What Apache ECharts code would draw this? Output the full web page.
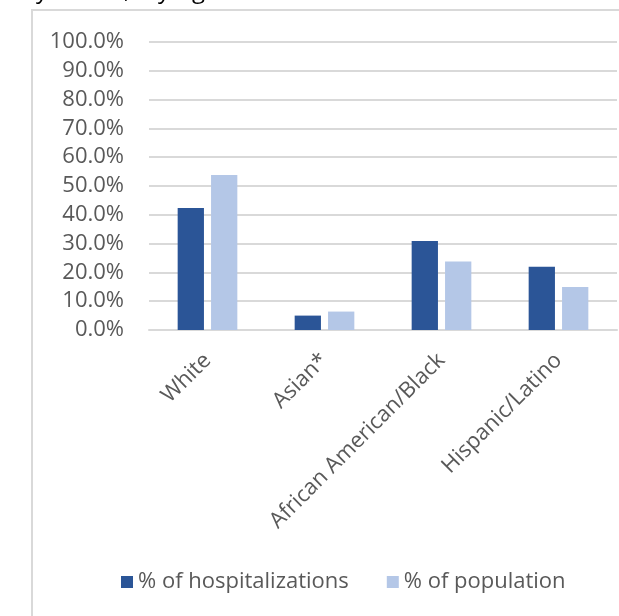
<!DOCTYPE html>
<html>
<head>
<meta charset="utf-8">
<script src="https://cdn.jsdelivr.net/npm/echarts@6/dist/echarts.min.js"></script>
<style>
html,body{margin:0;padding:0;background:#fff;}
#chart{width:619px;height:616px;}
</style>
</head>
<body>
<div id="chart"></div>
<script>
var categories = ['White', 'Asian*', 'African American/Black', 'Hispanic/Latino'];
var hospitalizations = [42.4, 5.0, 30.9, 22.0];
var population = [53.8, 6.4, 23.8, 14.9];
var seriesNames = ['% of hospitalizations', '% of population'];

var chart = echarts.init(document.getElementById('chart'), null, {renderer: 'canvas'});
var FONT = 'Open Sans';
var TXT = '#595959';
chart.setOption({
  animation: false,
  backgroundColor: '#fff',
  graphic: [
    {type: 'rect', z: -10, silent: true, shape: {x: 32, y: 10, width: 620, height: 640},
     style: {fill: 'none', stroke: '#d9d9d9', lineWidth: 2}},
    {type: 'text', left: 36, top: -21, silent: true,
     style: {text: 'y', font: '24px "Open Sans"', fill: '#000'}},
    {type: 'text', left: 124, top: -21, silent: true,
     style: {text: ',', font: '24px "Open Sans"', fill: '#000'}},
    {type: 'text', left: 158, top: -21, silent: true,
     style: {text: 'y', font: '24px "Open Sans"', fill: '#000'}},
    {type: 'text', left: 192, top: -21, silent: true,
     style: {text: 'g', font: '24px "Open Sans"', fill: '#000'}}
  ],
  grid: {left: 149, right: 2, top: 42, bottom: 286, containLabel: false},
  legend: {
    data: seriesNames,
    left: 116, top: 566,
    itemWidth: 12, itemHeight: 12, itemGap: 38,
    icon: 'rect',
    textStyle: {color: TXT, fontFamily: FONT, fontSize: 22}
  },
  xAxis: {
    type: 'category',
    data: categories,
    axisLine: {show: true, lineStyle: {color: '#d9d9d9', width: 2}},
    axisTick: {show: false},
    axisLabel: {rotate: 45, color: TXT, fontFamily: FONT, fontSize: 22, margin: 27, interval: 0}
  },
  yAxis: {
    type: 'value',
    min: 0, max: 100, interval: 10,
    axisLine: {show: false},
    axisTick: {show: false},
    splitLine: {lineStyle: {color: '#d9d9d9', width: 2}},
    axisLabel: {color: TXT, fontFamily: FONT, fontSize: 22, margin: 25,
      formatter: function (v) { return v.toFixed(1) + '%'; }}
  },
  series: [
    {name: seriesNames[0], type: 'bar', data: hospitalizations, barGap: '27%', barCategoryGap: '49%',
     itemStyle: {color: '#2B5597'}},
    {name: seriesNames[1], type: 'bar', data: population,
     itemStyle: {color: '#B4C7E7'}}
  ]
});
</script>
</body>
</html>
